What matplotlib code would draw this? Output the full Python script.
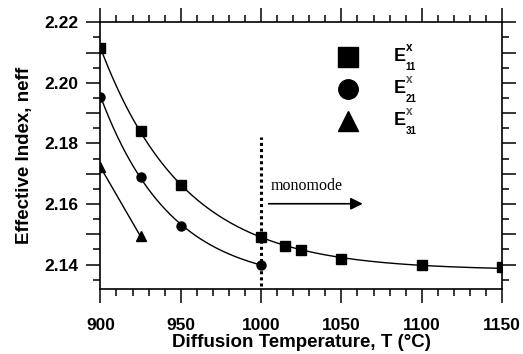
import numpy as np
import matplotlib
matplotlib.use("Agg")
import matplotlib.pyplot as plt
from matplotlib.ticker import MultipleLocator

# dane
t_e11 = [900, 925, 950, 1000, 1015, 1025, 1050, 1100, 1150]
n_e11 = [2.2115, 2.184, 2.1664, 2.1492, 2.1461, 2.1447, 2.1420, 2.1398, 2.1392]
t_e21 = [900, 925, 950, 1000]
n_e21 = [2.1955, 2.1690, 2.1529, 2.1400]
t_e31 = [900, 925]
n_e31 = [2.1722, 2.1493]

plt.rcParams['font.family'] = ['Liberation Sans', 'DejaVu Sans']


def fit_exp(x, y):
    # dopasowanie y = a + b*exp(-(x-x0)/tau), tau z przeszukania siatki
    x = np.asarray(x, float)
    y = np.asarray(y, float)
    best = None
    for tau in np.linspace(10, 200, 400):
        A = np.column_stack([np.ones_like(x), np.exp(-(x - x[0]) / tau)])
        coef, res, _, _ = np.linalg.lstsq(A, y, rcond=None)
        err = np.sum((A @ coef - y) ** 2)
        if best is None or err < best[0]:
            best = (err, tau, coef)
    _, tau, coef = best
    xs = np.linspace(x[0], x[-1], 300)
    return xs, coef[0] + coef[1] * np.exp(-(xs - x[0]) / tau)


fig = plt.figure(figsize=(5.23, 3.54), dpi=100)
ax = fig.add_axes([0.192, 0.184, 0.768, 0.753])

xs, ys = fit_exp(t_e11, n_e11)
ax.plot(xs, ys, color='black', lw=1.0)
xs, ys = fit_exp(t_e21, n_e21)
ax.plot(xs, ys, color='black', lw=1.0)
ax.plot(t_e31, n_e31, color='black', lw=1.0)

ax.plot(t_e11, n_e11, 's', color='black', ms=6.5, ls='none')
ax.plot(t_e21, n_e21, 'o', color='black', ms=6.5, ls='none')
ax.plot(t_e31, n_e31, '^', color='black', ms=6.5, ls='none')

# linia graniczna i napis
ax.plot([1000, 1000], [2.1330, 2.1820], color='black', ls=(0, (1, 1)), lw=2.2)
ax.annotate('', xy=(1065, 2.1601), xytext=(1003, 2.1601),
            arrowprops=dict(arrowstyle='-|>', color='black', lw=1.2,
                            mutation_scale=18))
ax.text(1006, 2.1645, 'monomode', family='Liberation Serif', fontsize=11.5)

# legenda rysowana recznie
lx = 0.616
for yy, m, sub in [(0.870, 's', '11'), (0.750, 'o', '21'), (0.630, '^', '31')]:
    ax.plot([lx], [yy], m, color='black', ms=14, transform=ax.transAxes,
            clip_on=False)
    ax.text(0.731, yy, 'E', transform=ax.transAxes, fontsize=13,
            fontweight='bold', va='center', ha='left')
    ax.text(0.760, yy + 0.032, 'x', transform=ax.transAxes, fontsize=8.5,
            fontweight='bold', va='center', ha='left',
            color='black' if sub == '11' else '#555555')
    ax.text(0.759, yy - 0.036, sub, transform=ax.transAxes, fontsize=7,
            fontweight='bold', va='center', ha='left')

ax.set_xlim(900, 1150)
ax.set_ylim(2.132, 2.22)
ax.xaxis.set_major_locator(MultipleLocator(50))
ax.xaxis.set_minor_locator(MultipleLocator(10))
ax.yaxis.set_major_locator(MultipleLocator(0.01))
ax.yaxis.set_minor_locator(MultipleLocator(0.005))
ax.set_yticks(np.arange(2.14, 2.2201, 0.01))
ax.set_yticklabels(['2.14', '', '2.16', '', '2.18', '', '2.20', '', '2.22'])

ax.tick_params(which='both', direction='out', top=True, right=True,
               width=1.1, labelsize=12.5)
ax.tick_params(which='major', length=10, pad=6)
ax.tick_params(which='minor', length=5)
ax.tick_params(axis='x', which='major', pad=11)
for lab in ax.get_xticklabels() + ax.get_yticklabels():
    lab.set_fontweight('bold')
for s in ax.spines.values():
    s.set_linewidth(1.2)

ax.set_xlabel('Diffusion Temperature, T (\u00b0C)', fontsize=13.5,
              fontweight='bold', labelpad=1)
ax.set_ylabel('Effective Index, neff', fontsize=13.5, fontweight='bold',
              labelpad=8)

fig.savefig('out.png', dpi=100)
